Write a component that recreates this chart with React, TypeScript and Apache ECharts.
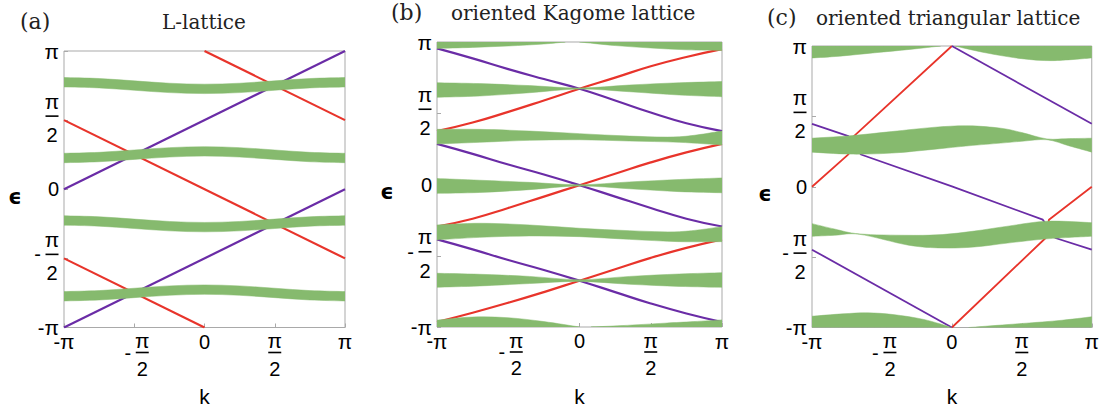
import React, { useEffect, useRef } from 'react';
import * as echarts from 'echarts';

// ---------- shared axis ticks (units of π) ----------
const TICK_VALUES = [-1, -0.5, 0, 0.5, 1];
const TICK_LABELS = ['-π', '-π/2', '0', 'π/2', 'π'];
const PANEL_TAGS = ['(a)', '(b)', '(c)'];
const PANEL_TITLES = ['L-lattice', 'oriented Kagome lattice', 'oriented triangular lattice'];
const X_NAME = 'k';
const Y_NAME = 'ϵ';

// ---------- panel (a): L-lattice ----------
const A_K = [-1, -0.75, -0.5, -0.25, 0, 0.25, 0.5, 0.75, 1];
const A_BAND1_LO = [0.740, 0.733, 0.716, 0.699, 0.692, 0.699, 0.716, 0.733, 0.740];
const A_BAND1_HI = [0.808, 0.801, 0.784, 0.767, 0.760, 0.767, 0.784, 0.801, 0.808];
const A_BAND2_LO = [0.192, 0.199, 0.216, 0.233, 0.240, 0.233, 0.216, 0.199, 0.192];
const A_BAND2_HI = [0.260, 0.267, 0.284, 0.301, 0.308, 0.301, 0.284, 0.267, 0.260];
const A_BAND3_LO = [-0.260, -0.267, -0.284, -0.301, -0.308, -0.301, -0.284, -0.267, -0.260];
const A_BAND3_HI = [-0.192, -0.199, -0.216, -0.233, -0.240, -0.233, -0.216, -0.199, -0.192];
const A_BAND4_LO = [-0.808, -0.801, -0.784, -0.767, -0.760, -0.767, -0.784, -0.801, -0.808];
const A_BAND4_HI = [-0.740, -0.733, -0.716, -0.699, -0.692, -0.699, -0.716, -0.733, -0.740];
const A_PUR1_K = [-1, 1];
const A_PUR1_E = [0, 1];
const A_PUR2_K = [-1, 1];
const A_PUR2_E = [-1, 0];
const A_RED1_K = [0, 1];
const A_RED1_E = [1, 0.5];
const A_RED2_K = [-1, 1];
const A_RED2_E = [0.5, -0.5];
const A_RED3_K = [-1, 0];
const A_RED3_E = [-0.5, -1];

// ---------- panel (b): oriented Kagome lattice ----------
const B_LK = [-1, -0.75, -0.5, -0.25, 0, 0.25, 0.5, 0.75, 1];
const B_RED_TOP = [0.375, 0.435, 0.51, 0.59, 0.672, 0.75, 0.83, 0.895, 0.95];
const B_RED_MID = [-0.295, -0.24, -0.165, -0.085, -0.005, 0.075, 0.155, 0.225, 0.285];
const B_RED_BOT = [-0.965, -0.9, -0.83, -0.755, -0.675, -0.595, -0.515, -0.445, -0.385];
const B_PUR_TOP = [0.955, 0.885, 0.81, 0.74, 0.672, 0.59, 0.505, 0.43, 0.375];
const B_PUR_MID = [0.285, 0.215, 0.14, 0.07, -0.005, -0.085, -0.165, -0.24, -0.295];
const B_PUR_BOT = [-0.385, -0.455, -0.53, -0.6, -0.675, -0.755, -0.835, -0.905, -0.965];

const B_BK = [-1, -0.7, -0.35, 0, 0.35, 0.7, 1];
const B_BAND_B_HI = [0.714, 0.708, 0.694, 0.677, 0.698, 0.714, 0.722];
const B_BAND_B_LO = [0.612, 0.621, 0.644, 0.670, 0.651, 0.628, 0.616];
const B_BAND_C_HI = [0.387, 0.387, 0.375, 0.357, 0.340, 0.335, 0.375];
const B_BAND_C_LO = [0.284, 0.296, 0.310, 0.314, 0.305, 0.296, 0.277];
const B_BAND_D_HI = [0.042, 0.030, 0.015, -0.002, 0.018, 0.035, 0.046];
const B_BAND_D_LO = [-0.062, -0.056, -0.036, -0.010, -0.030, -0.050, -0.058];
const B_BAND_E_HI = [-0.284, -0.272, -0.284, -0.307, -0.324, -0.331, -0.296];
const B_BAND_E_LO = [-0.389, -0.371, -0.361, -0.366, -0.385, -0.401, -0.401];
const B_BAND_F_HI = [-0.623, -0.630, -0.645, -0.668, -0.645, -0.628, -0.619];
const B_BAND_F_LO = [-0.721, -0.712, -0.695, -0.680, -0.700, -0.715, -0.721];

const B_TOP_L_K = [-1, -0.75, -0.5, -0.25, -0.1];
const B_TOP_L_LO = [0.955, 0.962, 0.972, 0.986, 1.0];
const B_TOP_L_HI = [1, 1, 1, 1, 1];
const B_TOP_R_K = [0, 0.25, 0.5, 0.75, 1];
const B_TOP_R_LO = [1.0, 0.975, 0.958, 0.945, 0.94];
const B_TOP_R_HI = [1, 1, 1, 1, 1];
const B_BOT_L_K = [-1, -0.75, -0.5, -0.25, 0];
const B_BOT_L_LO = [-1, -1, -1, -1, -1];
const B_BOT_L_HI = [-0.952, -0.93, -0.935, -0.962, -1.0];
const B_BOT_R_K = [0.08, 0.3, 0.6, 0.8, 1];
const B_BOT_R_LO = [-1, -1, -1, -1, -1];
const B_BOT_R_HI = [-1.0, -0.99, -0.973, -0.962, -0.95];

// ---------- panel (c): oriented triangular lattice ----------
const C_RED1_K = [-1, -0.74, -0.7, 0];
const C_RED1_E = [0, 0.23, 0.36, 1];
const C_RED2_K = [0, 0.67, 0.694, 1];
const C_RED2_E = [-1, -0.364, -0.234, 0];
const C_PUR1_K = [-1, -0.74, -0.65, 0, 0.65, 0.74, 1];
const C_PUR1_E = [0.447, 0.36, 0.229, 0.003, -0.234, -0.364, -0.447];
const C_PUR2_K = [0, 1];
const C_PUR2_E = [1, 0.447];
const C_PUR3_K = [-1, 0];
const C_PUR3_E = [-0.447, -1];

const C_TOP_L_K = [-1, -0.8, -0.55, -0.3, -0.08];
const C_TOP_L_LO = [0.915, 0.928, 0.952, 0.976, 1.0];
const C_TOP_L_HI = [1, 1, 1, 1, 1];
const C_TOP_R_K = [0.02, 0.25, 0.5, 0.72, 1];
const C_TOP_R_LO = [1.0, 0.95, 0.91, 0.896, 0.915];
const C_TOP_R_HI = [1, 1, 1, 1, 1];
const C_BOT_L_K = [-1, -0.78, -0.6, -0.42, -0.2, 0];
const C_BOT_L_LO = [-1, -1, -1, -1, -1, -1];
const C_BOT_L_HI = [-0.92, -0.903, -0.896, -0.908, -0.943, -1.0];
const C_BOT_R_K = [0.12, 0.4, 0.75, 1];
const C_BOT_R_LO = [-1, -1, -1, -1];
const C_BOT_R_HI = [-1.0, -0.979, -0.952, -0.924];
const C_MID1_K = [-1, -0.73, -0.43, -0.12, 0.12, 0.35, 0.5, 0.68, 0.84, 1];
const C_MID1_HI = [0.345, 0.362, 0.392, 0.423, 0.433, 0.416, 0.385, 0.34, 0.342, 0.345];
const C_MID1_LO = [0.246, 0.232, 0.239, 0.267, 0.291, 0.31, 0.323, 0.334, 0.29, 0.246];
const C_MID2_K = [-1, -0.84, -0.66, -0.31, -0.07, 0.16, 0.4, 0.68, 1];
const C_MID2_HI = [-0.262, -0.3, -0.335, -0.345, -0.34, -0.315, -0.28, -0.245, -0.255];
const C_MID2_LO = [-0.352, -0.345, -0.338, -0.415, -0.435, -0.428, -0.4, -0.37, -0.352];

// ---------- styling ----------
const GREEN = '#86ba6e';
const RED = '#e8342b';
const PURPLE = '#6a2ca6';
const FRAME = '#a9a9a9';
const SANS = 'Liberation Sans';
const SERIF = 'DejaVu Serif';

function makeRich(single: number, l1: number, l2: number, l3: number) {
  const base = { fontFamily: SANS, color: '#000', verticalAlign: 'middle' };
  return {
    s: { ...base, fontSize: 20, lineHeight: single },
    p: { ...base, fontSize: 21, lineHeight: single },
    n: { ...base, fontSize: 21, width: 14, align: 'center', lineHeight: l1 },
    bar: { width: 13, height: 1.6, backgroundColor: '#000', lineHeight: l2, align: 'center', verticalAlign: 'middle' },
    m: { ...base, fontSize: 20, width: 16, align: 'center', lineHeight: l2 },
    g: { fontSize: 2, width: 16, lineHeight: 1, align: 'center', verticalAlign: 'middle' },
    d: { ...base, fontSize: 20, width: 14, align: 'center', lineHeight: l3 },
  };
}
const X_RICH = makeRich(14, 12, 12, 20);
const Y_RICH = makeRich(12, 22, 8, 30);

function richLabel(label: string): string {
  const neg = label.startsWith('-');
  const body = neg ? label.slice(1) : label;
  if (body.includes('/')) {
    const [num, den] = body.split('/');
    if (neg) return `{g| }{n|${num}}\n{m|-}{bar| }\n{g| }{d|${den}}`;
    return `{n|${num}}\n{bar| }\n{d|${den}}`;
  }
  if (body === 'π') return neg ? `{s|-}{p|π}` : `{p|π}`;
  return `{s|${label}}`;
}

function tickFormatter(v: number): string {
  const i = TICK_VALUES.findIndex((t) => Math.abs(t - v) < 1e-9);
  return i < 0 ? '' : richLabel(TICK_LABELS[i]);
}

function lineSeries(g: number, ks: number[], es: number[], color: string, width: number, smooth: boolean) {
  return {
    type: 'line',
    xAxisIndex: g,
    yAxisIndex: g,
    data: ks.map((k, i) => [k, es[i]]),
    smooth,
    symbol: 'none',
    silent: true,
    z: 2,
    lineStyle: { color, width },
  };
}

// smooth curve through pixel points (Catmull-Rom as cubic Bézier segments)
function curveSegments(pts: number[][]): string {
  let s = '';
  for (let i = 0; i < pts.length - 1; i++) {
    const p0 = pts[i - 1] || pts[i];
    const p1 = pts[i];
    const p2 = pts[i + 1];
    const p3 = pts[i + 2] || p2;
    const c1x = p1[0] + (p2[0] - p0[0]) / 6;
    const c1y = p1[1] + (p2[1] - p0[1]) / 6;
    const c2x = p2[0] - (p3[0] - p1[0]) / 6;
    const c2y = p2[1] - (p3[1] - p1[1]) / 6;
    s += ` C ${c1x} ${c1y} ${c2x} ${c2y} ${p2[0]} ${p2[1]}`;
  }
  return s;
}

function bandSeries(g: number, ks: number[], lo: number[], hi: number[]) {
  return {
    type: 'custom',
    xAxisIndex: g,
    yAxisIndex: g,
    z: 3,
    silent: true,
    clip: true,
    data: ks.map((k, i) => [k, lo[i], hi[i]]),
    encode: { x: 0, y: [1, 2] },
    renderItem: (params: any, api: any) => {
      if (params.dataIndex !== 0) return { type: 'group', children: [] };
      const up = ks.map((k, i) => api.coord([k, hi[i]]));
      const dn = ks.map((k, i) => api.coord([k, lo[i]])).reverse();
      const d =
        `M ${up[0][0]} ${up[0][1]}` +
        curveSegments(up) +
        ` L ${dn[0][0]} ${dn[0][1]}` +
        curveSegments(dn) +
        ' Z';
      return {
        type: 'path',
        shape: { pathData: d },
        style: { fill: GREEN, stroke: GREEN, lineWidth: 0.5 },
      };
    },
  };
}

const GRIDS = [
  { left: 64, top: 51, width: 281, height: 281, yNameGap: 49, xNameGap: 69 },
  { left: 437, top: 42, width: 285, height: 285, yNameGap: 50, xNameGap: 69 },
  { left: 812, top: 46, width: 283, height: 282, yNameGap: 47, xNameGap: 69 },
];

const TITLE_POS = [
  { tagLeft: 20, textLeft: 162, tagTop: 10, top: 12 },
  { tagLeft: 391, textLeft: 451, tagTop: 1, top: 3 },
  { tagLeft: 767, textLeft: 816, tagTop: 6, top: 8 },
];

function buildOption() {
  const series: any[] = [
    // (a)
    lineSeries(0, A_PUR1_K, A_PUR1_E, PURPLE, 2.2, false),
    lineSeries(0, A_PUR2_K, A_PUR2_E, PURPLE, 2.2, false),
    lineSeries(0, A_RED1_K, A_RED1_E, RED, 2.2, false),
    lineSeries(0, A_RED2_K, A_RED2_E, RED, 2.2, false),
    lineSeries(0, A_RED3_K, A_RED3_E, RED, 2.2, false),
    bandSeries(0, A_K, A_BAND1_LO, A_BAND1_HI),
    bandSeries(0, A_K, A_BAND2_LO, A_BAND2_HI),
    bandSeries(0, A_K, A_BAND3_LO, A_BAND3_HI),
    bandSeries(0, A_K, A_BAND4_LO, A_BAND4_HI),
    // (b)
    lineSeries(1, B_LK, B_RED_TOP, RED, 2.2, true),
    lineSeries(1, B_LK, B_RED_MID, RED, 2.2, true),
    lineSeries(1, B_LK, B_RED_BOT, RED, 2.2, true),
    lineSeries(1, B_LK, B_PUR_TOP, PURPLE, 2.2, true),
    lineSeries(1, B_LK, B_PUR_MID, PURPLE, 2.2, true),
    lineSeries(1, B_LK, B_PUR_BOT, PURPLE, 2.2, true),
    bandSeries(1, B_BK, B_BAND_B_LO, B_BAND_B_HI),
    bandSeries(1, B_BK, B_BAND_C_LO, B_BAND_C_HI),
    bandSeries(1, B_BK, B_BAND_D_LO, B_BAND_D_HI),
    bandSeries(1, B_BK, B_BAND_E_LO, B_BAND_E_HI),
    bandSeries(1, B_BK, B_BAND_F_LO, B_BAND_F_HI),
    bandSeries(1, B_TOP_L_K, B_TOP_L_LO, B_TOP_L_HI),
    bandSeries(1, B_TOP_R_K, B_TOP_R_LO, B_TOP_R_HI),
    bandSeries(1, B_BOT_L_K, B_BOT_L_LO, B_BOT_L_HI),
    bandSeries(1, B_BOT_R_K, B_BOT_R_LO, B_BOT_R_HI),
    // (c)
    lineSeries(2, C_RED1_K, C_RED1_E, RED, 1.8, false),
    lineSeries(2, C_RED2_K, C_RED2_E, RED, 1.8, false),
    lineSeries(2, C_PUR1_K, C_PUR1_E, PURPLE, 1.8, false),
    lineSeries(2, C_PUR2_K, C_PUR2_E, PURPLE, 1.8, false),
    lineSeries(2, C_PUR3_K, C_PUR3_E, PURPLE, 1.8, false),
    bandSeries(2, C_TOP_L_K, C_TOP_L_LO, C_TOP_L_HI),
    bandSeries(2, C_TOP_R_K, C_TOP_R_LO, C_TOP_R_HI),
    bandSeries(2, C_BOT_L_K, C_BOT_L_LO, C_BOT_L_HI),
    bandSeries(2, C_BOT_R_K, C_BOT_R_LO, C_BOT_R_HI),
    bandSeries(2, C_MID1_K, C_MID1_LO, C_MID1_HI),
    bandSeries(2, C_MID2_K, C_MID2_LO, C_MID2_HI),
  ];

  const axisCommon = {
    type: 'value',
    min: -1,
    max: 1,
    interval: 0.5,
    axisLine: { show: false, onZero: false },
    axisTick: { show: true, inside: true, length: 4, lineStyle: { color: FRAME, width: 1 } },
    splitLine: { show: false },
    nameLocation: 'middle',
    nameRotate: 0,
  };

  const xAxis = GRIDS.map((g, i) => ({
    ...axisCommon,
    gridIndex: i,
    position: 'bottom',
    name: X_NAME,
    nameGap: g.xNameGap,
    nameTextStyle: { fontFamily: SANS, fontSize: 21, color: '#000', align: 'center', verticalAlign: 'middle' },
    axisLabel: { formatter: tickFormatter, rich: X_RICH, margin: 7, showMinLabel: true, showMaxLabel: true },
  }));
  const yAxis = GRIDS.map((g, i) => ({
    ...axisCommon,
    gridIndex: i,
    position: 'left',
    name: `{sp| }\n{e|${Y_NAME}}`,
    nameGap: g.yNameGap,
    nameTextStyle: {
      align: 'center',
      verticalAlign: 'middle',
      rich: {
        sp: { fontSize: 2, lineHeight: 15, verticalAlign: 'middle' },
        e: {
          fontFamily: 'DejaVu Sans',
          fontSize: 21,
          fontWeight: 'bold',
          color: '#000',
          lineHeight: 24,
          verticalAlign: 'middle',
        },
      },
    },
    axisLabel: { formatter: tickFormatter, rich: Y_RICH, margin: 5, showMinLabel: true, showMaxLabel: true },
  }));

  const titleStyle = { fontFamily: SERIF, fontSize: 20, fontWeight: 'normal', color: '#222' };
  const tagStyle = { fontFamily: SERIF, fontSize: 22, fontWeight: 'normal', color: '#222' };
  const title: any[] = [];
  TITLE_POS.forEach((p, i) => {
    title.push({ text: PANEL_TAGS[i], left: p.tagLeft, top: p.tagTop, padding: 0, textStyle: tagStyle });
    title.push({ text: PANEL_TITLES[i], left: p.textLeft, top: p.top, padding: 0, textStyle: titleStyle });
  });

  return {
    animation: false,
    backgroundColor: '#ffffff',
    title,
    grid: GRIDS.map((g) => ({
      left: g.left,
      top: g.top,
      width: g.width,
      height: g.height,
      show: true,
      borderColor: FRAME,
      borderWidth: 1,
      backgroundColor: 'transparent',
      containLabel: false,
    })),
    xAxis,
    yAxis,
    series,
  };
}

export default function App() {
  const ref = useRef<HTMLDivElement>(null);
  useEffect(() => {
    document.body.style.margin = '0';
    if (!ref.current) return;
    const chart = echarts.init(ref.current, undefined, { renderer: 'svg' });
    chart.setOption(buildOption() as any);
    return () => chart.dispose();
  }, []);
  return <div ref={ref} style={{ width: 1102, height: 412 }} />;
}
